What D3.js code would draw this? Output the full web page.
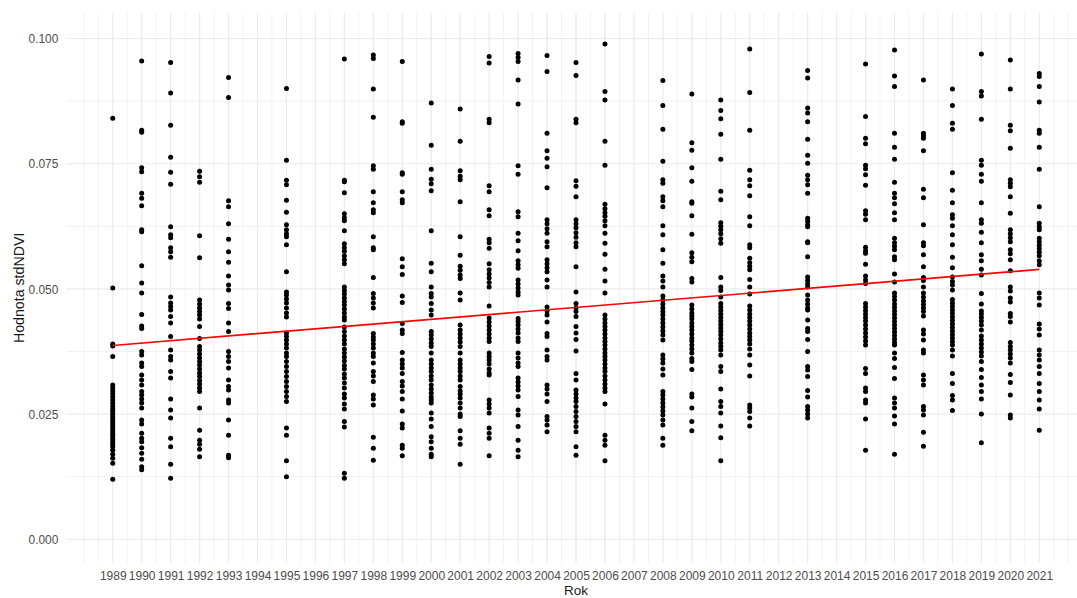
<!DOCTYPE html>
<html>
<head>
<meta charset="utf-8">
<script src="https://cdn.jsdelivr.net/npm/d3@7"></script>
<style>
  html, body { margin: 0; padding: 0; background: #ffffff; }
  svg { display: block; font-family: "Liberation Sans", Arial, sans-serif; }
</style>
</head>
<body>
<svg id="chart" width="1077" height="598"></svg>
<script>
// ---------------- DATA ----------------
const xLabels = ["1989","1990","1991","1992","1993","1994","1995","1996","1997","1998","1999","2000","2001","2002","2003","2004","2005","2006","2007","2008","2009","2010","2011","2012","2013","2014","2015","2016","2017","2018","2019","2020","2021"];
const yTicks = [0, 0.025, 0.05, 0.075, 0.1];
const yTickLabels = ["0.000", "0.025", "0.050", "0.075", "0.100"];

const v1989 = [0.0841,0.0502,0.0390,0.0386,0.0365,0.0308,0.0302,0.0296,0.0290,0.0284,0.0278,0.0272,0.0266,0.0260,0.0255,0.0250,0.0245,0.0240,0.0235,0.0230,0.0225,0.0220,0.0215,0.0210,0.0205,0.0200,0.0195,0.0190,0.0185,0.0178,0.0170,0.0162,0.0152,0.0120];
const v1990 = [0.0955,0.0817,0.0813,0.0742,0.0734,0.0691,0.0681,0.0666,0.0618,0.0614,0.0546,0.0512,0.0492,0.0449,0.0426,0.0421,0.0375,0.0368,0.0352,0.0345,0.0328,0.0318,0.0308,0.0295,0.0288,0.0280,0.0272,0.0262,0.0238,0.0230,0.0212,0.0202,0.0195,0.0183,0.0172,0.0160,0.0145,0.0139];
const v1991 = [0.0952,0.0891,0.0827,0.0763,0.0733,0.0709,0.0624,0.0608,0.0602,0.0582,0.0574,0.0563,0.0484,0.0472,0.0465,0.0458,0.0445,0.0432,0.0405,0.0378,0.0365,0.0358,0.0335,0.0322,0.0280,0.0258,0.0242,0.0202,0.0185,0.0150,0.0122];
const v1992 = [0.0735,0.0724,0.0713,0.0606,0.0562,0.0478,0.0470,0.0462,0.0455,0.0448,0.0440,0.0425,0.0401,0.0385,0.0378,0.0370,0.0362,0.0355,0.0348,0.0340,0.0332,0.0325,0.0317,0.0310,0.0302,0.0295,0.0262,0.0218,0.0198,0.0190,0.0180,0.0165];
const v1993 = [0.0922,0.0882,0.0676,0.0664,0.0630,0.0599,0.0574,0.0553,0.0526,0.0508,0.0498,0.0471,0.0461,0.0432,0.0415,0.0375,0.0365,0.0355,0.0342,0.0318,0.0305,0.0298,0.0278,0.0272,0.0238,0.0208,0.0168,0.0163];
const v1995 = [0.0900,0.0757,0.0717,0.0708,0.0677,0.0653,0.0628,0.0618,0.0610,0.0604,0.0588,0.0534,0.0494,0.0488,0.0480,0.0472,0.0462,0.0452,0.0444,0.0412,0.0405,0.0398,0.0390,0.0382,0.0372,0.0365,0.0355,0.0345,0.0335,0.0325,0.0315,0.0305,0.0295,0.0285,0.0275,0.0222,0.0208,0.0157,0.0125];
const v1997 = [0.0959,0.0717,0.0714,0.0692,0.0650,0.0642,0.0636,0.0616,0.0590,0.0582,0.0575,0.0566,0.0558,0.0550,0.0504,0.0497,0.0490,0.0482,0.0475,0.0468,0.0460,0.0452,0.0444,0.0438,0.0424,0.0415,0.0406,0.0398,0.0390,0.0380,0.0372,0.0364,0.0356,0.0347,0.0340,0.0330,0.0322,0.0312,0.0302,0.0290,0.0282,0.0270,0.0260,0.0235,0.0224,0.0132,0.0122];
const v1998 = [0.0967,0.0960,0.0899,0.0843,0.0746,0.0739,0.0694,0.0672,0.0658,0.0652,0.0604,0.0582,0.0578,0.0523,0.0491,0.0482,0.0472,0.0462,0.0411,0.0404,0.0398,0.0390,0.0382,0.0372,0.0365,0.0352,0.0335,0.0326,0.0315,0.0288,0.0280,0.0268,0.0204,0.0182,0.0158];
const v1999 = [0.0954,0.0834,0.0831,0.0732,0.0729,0.0694,0.0678,0.0672,0.0560,0.0544,0.0529,0.0486,0.0473,0.0431,0.0418,0.0411,0.0373,0.0358,0.0350,0.0342,0.0331,0.0315,0.0306,0.0295,0.0280,0.0256,0.0230,0.0222,0.0188,0.0182,0.0167];
const v2000 = [0.0871,0.0787,0.0739,0.0719,0.0710,0.0696,0.0616,0.0551,0.0534,0.0504,0.0491,0.0484,0.0471,0.0458,0.0448,0.0415,0.0408,0.0400,0.0392,0.0385,0.0372,0.0358,0.0350,0.0342,0.0335,0.0326,0.0318,0.0308,0.0300,0.0292,0.0284,0.0278,0.0272,0.0252,0.0240,0.0225,0.0205,0.0195,0.0182,0.0170,0.0165];
const v2001 = [0.0859,0.0795,0.0736,0.0725,0.0718,0.0674,0.0604,0.0567,0.0545,0.0537,0.0528,0.0521,0.0492,0.0478,0.0428,0.0418,0.0410,0.0402,0.0394,0.0385,0.0372,0.0358,0.0350,0.0342,0.0335,0.0326,0.0318,0.0305,0.0296,0.0290,0.0282,0.0272,0.0262,0.0250,0.0245,0.0217,0.0202,0.0190,0.0150];
const v2002 = [0.0964,0.0951,0.0839,0.0832,0.0706,0.0694,0.0658,0.0646,0.0599,0.0592,0.0581,0.0550,0.0538,0.0530,0.0522,0.0513,0.0504,0.0466,0.0442,0.0434,0.0426,0.0418,0.0410,0.0402,0.0395,0.0372,0.0365,0.0358,0.0350,0.0340,0.0332,0.0328,0.0278,0.0270,0.0262,0.0252,0.0222,0.0212,0.0202,0.0167];
const v2003 = [0.0970,0.0962,0.0954,0.0917,0.0869,0.0746,0.0729,0.0654,0.0644,0.0611,0.0596,0.0576,0.0556,0.0548,0.0541,0.0518,0.0510,0.0502,0.0494,0.0488,0.0441,0.0435,0.0428,0.0420,0.0412,0.0402,0.0395,0.0372,0.0362,0.0352,0.0345,0.0322,0.0314,0.0306,0.0298,0.0285,0.0258,0.0248,0.0225,0.0198,0.0178,0.0165];
const v2004 = [0.0966,0.0934,0.0811,0.0776,0.0761,0.0744,0.0702,0.0638,0.0630,0.0620,0.0611,0.0594,0.0584,0.0558,0.0550,0.0542,0.0534,0.0518,0.0504,0.0464,0.0456,0.0448,0.0434,0.0411,0.0405,0.0378,0.0365,0.0358,0.0308,0.0300,0.0290,0.0275,0.0245,0.0238,0.0228,0.0215];
const v2005 = [0.0952,0.0926,0.0839,0.0832,0.0716,0.0705,0.0684,0.0638,0.0630,0.0622,0.0612,0.0603,0.0592,0.0584,0.0544,0.0494,0.0471,0.0462,0.0455,0.0445,0.0425,0.0412,0.0399,0.0376,0.0331,0.0318,0.0298,0.0290,0.0282,0.0275,0.0265,0.0255,0.0245,0.0235,0.0225,0.0215,0.0185,0.0168];
const v2006 = [0.0989,0.0894,0.0877,0.0795,0.0747,0.0669,0.0660,0.0652,0.0645,0.0636,0.0626,0.0611,0.0591,0.0569,0.0539,0.0516,0.0492,0.0448,0.0440,0.0432,0.0425,0.0418,0.0410,0.0402,0.0395,0.0388,0.0380,0.0372,0.0365,0.0358,0.0350,0.0342,0.0335,0.0326,0.0318,0.0310,0.0302,0.0295,0.0270,0.0208,0.0198,0.0188,0.0157];
const v2008 = [0.0916,0.0866,0.0819,0.0755,0.0718,0.0711,0.0684,0.0676,0.0664,0.0626,0.0608,0.0578,0.0551,0.0526,0.0516,0.0504,0.0486,0.0478,0.0470,0.0462,0.0455,0.0448,0.0440,0.0432,0.0424,0.0416,0.0408,0.0398,0.0368,0.0360,0.0352,0.0340,0.0328,0.0295,0.0288,0.0280,0.0272,0.0264,0.0256,0.0248,0.0238,0.0228,0.0202,0.0188];
const v2009 = [0.0889,0.0792,0.0777,0.0742,0.0715,0.0674,0.0671,0.0646,0.0609,0.0572,0.0563,0.0554,0.0521,0.0514,0.0468,0.0460,0.0452,0.0446,0.0440,0.0432,0.0425,0.0418,0.0410,0.0402,0.0396,0.0388,0.0380,0.0372,0.0361,0.0355,0.0339,0.0290,0.0284,0.0262,0.0235,0.0217];
const v2010 = [0.0877,0.0856,0.0840,0.0809,0.0759,0.0695,0.0678,0.0632,0.0625,0.0618,0.0610,0.0600,0.0591,0.0523,0.0504,0.0497,0.0484,0.0471,0.0464,0.0457,0.0450,0.0443,0.0436,0.0429,0.0422,0.0415,0.0408,0.0400,0.0392,0.0385,0.0378,0.0368,0.0345,0.0335,0.0300,0.0275,0.0265,0.0252,0.0226,0.0203,0.0157];
const v2011 = [0.0979,0.0892,0.0817,0.0737,0.0718,0.0706,0.0686,0.0644,0.0626,0.0588,0.0582,0.0561,0.0552,0.0545,0.0538,0.0519,0.0504,0.0490,0.0466,0.0458,0.0450,0.0443,0.0436,0.0428,0.0420,0.0412,0.0405,0.0398,0.0390,0.0380,0.0368,0.0348,0.0326,0.0268,0.0262,0.0255,0.0242,0.0226];
const v2013 = [0.0936,0.0921,0.0861,0.0851,0.0834,0.0799,0.0767,0.0751,0.0727,0.0718,0.0708,0.0691,0.0641,0.0635,0.0628,0.0624,0.0594,0.0592,0.0564,0.0524,0.0517,0.0510,0.0504,0.0488,0.0478,0.0470,0.0462,0.0458,0.0438,0.0421,0.0415,0.0399,0.0375,0.0345,0.0338,0.0325,0.0297,0.0284,0.0265,0.0258,0.0250,0.0242];
const v2015 = [0.0949,0.0844,0.0801,0.0790,0.0747,0.0740,0.0728,0.0707,0.0656,0.0649,0.0638,0.0583,0.0576,0.0571,0.0549,0.0526,0.0518,0.0511,0.0471,0.0464,0.0457,0.0450,0.0443,0.0436,0.0428,0.0420,0.0412,0.0404,0.0396,0.0388,0.0341,0.0331,0.0302,0.0295,0.0278,0.0272,0.0240,0.0178];
const v2016 = [0.0977,0.0925,0.0904,0.0811,0.0783,0.0759,0.0713,0.0691,0.0682,0.0670,0.0652,0.0638,0.0601,0.0592,0.0585,0.0578,0.0564,0.0558,0.0530,0.0514,0.0492,0.0485,0.0478,0.0470,0.0463,0.0456,0.0449,0.0442,0.0435,0.0428,0.0421,0.0414,0.0407,0.0400,0.0393,0.0388,0.0372,0.0361,0.0343,0.0321,0.0282,0.0272,0.0262,0.0246,0.0230,0.0170];
const v2017 = [0.0917,0.0811,0.0806,0.0801,0.0776,0.0699,0.0682,0.0628,0.0592,0.0586,0.0568,0.0544,0.0523,0.0517,0.0504,0.0492,0.0484,0.0476,0.0469,0.0462,0.0455,0.0446,0.0418,0.0410,0.0398,0.0378,0.0372,0.0328,0.0318,0.0308,0.0265,0.0258,0.0248,0.0214,0.0186];
const v2018 = [0.0899,0.0866,0.0831,0.0819,0.0732,0.0697,0.0672,0.0648,0.0641,0.0626,0.0608,0.0588,0.0563,0.0542,0.0524,0.0515,0.0508,0.0498,0.0479,0.0472,0.0465,0.0458,0.0451,0.0444,0.0437,0.0430,0.0423,0.0416,0.0409,0.0402,0.0395,0.0388,0.0378,0.0366,0.0331,0.0311,0.0287,0.0278,0.0257];
const v2019 = [0.0969,0.0894,0.0885,0.0839,0.0757,0.0747,0.0729,0.0715,0.0672,0.0638,0.0631,0.0613,0.0592,0.0568,0.0556,0.0539,0.0528,0.0491,0.0470,0.0456,0.0450,0.0443,0.0436,0.0428,0.0418,0.0406,0.0398,0.0390,0.0382,0.0374,0.0366,0.0355,0.0339,0.0323,0.0308,0.0295,0.0280,0.0250,0.0193];
const v2020 = [0.0957,0.0899,0.0827,0.0816,0.0781,0.0718,0.0711,0.0704,0.0684,0.0651,0.0618,0.0610,0.0602,0.0594,0.0578,0.0570,0.0558,0.0536,0.0504,0.0496,0.0482,0.0474,0.0451,0.0445,0.0434,0.0393,0.0385,0.0378,0.0370,0.0362,0.0352,0.0329,0.0313,0.0288,0.0248,0.0242];
const v2021 = [0.0930,0.0924,0.0904,0.0873,0.0817,0.0811,0.0783,0.0739,0.0664,0.0631,0.0624,0.0618,0.0601,0.0594,0.0587,0.0580,0.0573,0.0566,0.0556,0.0548,0.0492,0.0482,0.0468,0.0430,0.0420,0.0408,0.0378,0.0368,0.0358,0.0345,0.0331,0.0311,0.0295,0.0278,0.0260,0.0218];

const years = [1989,1990,1991,1992,1993,1995,1997,1998,1999,2000,2001,2002,2003,2004,2005,2006,2008,2009,2010,2011,2013,2015,2016,2017,2018,2019,2020,2021];
const yearValues = [v1989,v1990,v1991,v1992,v1993,v1995,v1997,v1998,v1999,v2000,v2001,v2002,v2003,v2004,v2005,v2006,v2008,v2009,v2010,v2011,v2013,v2015,v2016,v2017,v2018,v2019,v2020,v2021];

// linear fit (geom_smooth method = "lm") end points
const trendYears = [1989, 2021];
const trendValues = [0.0387, 0.0539];

const xTitle = "Rok";
const yTitle = "Hodnota stdNDVI";

// ---------------- LAYOUT ----------------
const W = 1077, H = 598;
const svg = d3.select("#chart");
svg.append("rect").attr("width", W).attr("height", H).attr("fill", "#ffffff");

const x = d3.scaleLinear().domain([1987.4, 2022.6]).range([66.4, 1085.6]);
const y = d3.scaleLinear().domain([0, 0.1]).range([539.3, 38.5]);
const panelTop = 13, panelBottom = 562.7;
const panelLeft = x.range()[0], panelRight = x.range()[1];

const grid = svg.append("g");
// minor vertical grid
const minorX = d3.range(1988, 2022.01, 0.5);
grid.selectAll("line.mvx").data(minorX).enter().append("line")
  .attr("x1", d => x(d)).attr("x2", d => x(d))
  .attr("y1", panelTop).attr("y2", panelBottom)
  .attr("stroke", "#f0f0f0").attr("stroke-width", 0.9);
// minor horizontal grid
const minorY = d3.range(0.0125, 0.1, 0.025);
grid.selectAll("line.mhy").data(minorY).enter().append("line")
  .attr("x1", panelLeft).attr("x2", panelRight)
  .attr("y1", d => y(d)).attr("y2", d => y(d))
  .attr("stroke", "#f0f0f0").attr("stroke-width", 0.9);
// major vertical grid
const majorX = xLabels.map(Number);
grid.selectAll("line.vx").data(majorX).enter().append("line")
  .attr("x1", d => x(d)).attr("x2", d => x(d))
  .attr("y1", panelTop).attr("y2", panelBottom)
  .attr("stroke", "#ebebeb").attr("stroke-width", 1.1);
// major horizontal grid
grid.selectAll("line.hy").data(yTicks).enter().append("line")
  .attr("x1", panelLeft).attr("x2", panelRight)
  .attr("y1", d => y(d)).attr("y2", d => y(d))
  .attr("stroke", "#ebebeb").attr("stroke-width", 1.1);

// axes (text only, ggplot theme_minimal style)
const xAxis = d3.axisBottom(x).tickValues(majorX).tickFormat((d, i) => xLabels[i]).tickSize(0).tickPadding(0);
const gx = svg.append("g").attr("transform", `translate(0, ${panelBottom + 8.5})`).call(xAxis);
gx.select(".domain").remove();
gx.selectAll("text").attr("fill", "#4d4d4d").attr("font-size", "12px")
  .attr("font-family", "'Liberation Sans', Arial, sans-serif").attr("dy", "0.71em");

const yAxis = d3.axisLeft(y).tickValues(yTicks).tickFormat((d, i) => yTickLabels[i]).tickSize(0).tickPadding(0);
const gy = svg.append("g").attr("transform", `translate(${58.3}, 0)`).call(yAxis);
gy.select(".domain").remove();
gy.selectAll("text").attr("fill", "#4d4d4d").attr("font-size", "11.9px")
  .attr("font-family", "'Liberation Sans', Arial, sans-serif").attr("dy", "0.35em");

// points
const pts = [];
years.forEach((yr, i) => yearValues[i].forEach(v => pts.push({ yr, v })));
svg.append("g").selectAll("circle").data(pts).enter().append("circle")
  .attr("cx", d => x(d.yr)).attr("cy", d => y(d.v)).attr("r", 2.5).attr("fill", "#000000");

// trend line
const line = d3.line().x(d => x(d[0])).y(d => y(d[1]));
svg.append("path").datum(trendYears.map((t, i) => [t, trendValues[i]]))
  .attr("d", line).attr("fill", "none").attr("stroke", "#ff0000").attr("stroke-width", 1.7);

// axis titles
svg.append("text").attr("x", (panelLeft + panelRight) / 2).attr("y", 595.2)
  .attr("text-anchor", "middle").attr("font-size", "13.5px").attr("fill", "#1a1a1a").text(xTitle);
svg.append("text").attr("transform", `translate(23.5, ${(panelTop + panelBottom) / 2}) rotate(-90)`)
  .attr("text-anchor", "middle").attr("font-size", "14.2px").attr("fill", "#1a1a1a").text(yTitle);
</script>
</body>
</html>
